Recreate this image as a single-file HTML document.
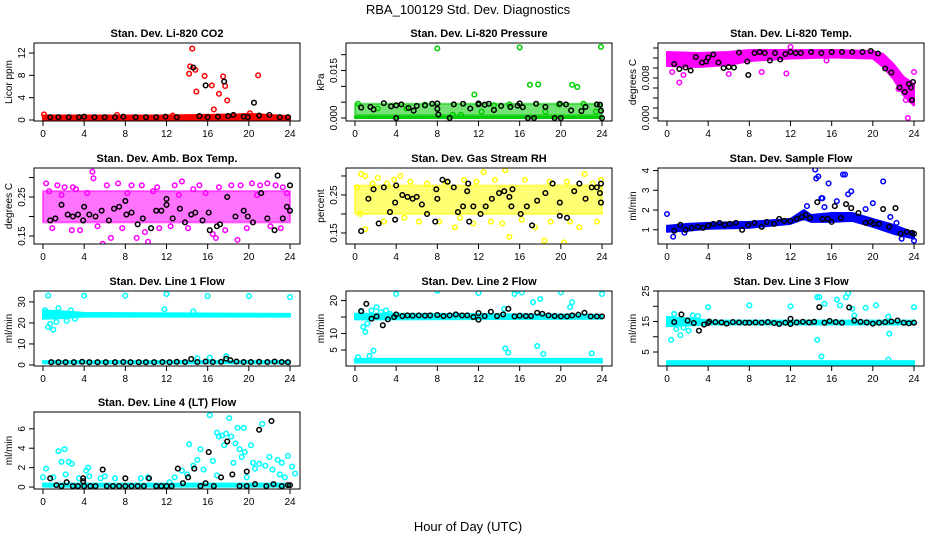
<!DOCTYPE html>
<html><head><meta charset="utf-8"><style>
body{margin:0;background:#fff}
svg{display:block;font-family:"Liberation Sans",Arial,sans-serif}
</style></head><body>
<svg id="chart" width="936" height="540" viewBox="0 0 936 540" xmlns="http://www.w3.org/2000/svg">
<text x="468" y="14" font-size="13" text-anchor="middle">RBA_100129  Std. Dev. Diagnostics</text>
<text x="468" y="531" font-size="13" text-anchor="middle">Hour of Day (UTC)</text>
</svg>
<script>
// ---------- data ----------
const xTicks = [0,4,8,12,16,20,24];

const co2Band = [[0,0,0.8],[12,0,0.8],[19,0,1.0],[20,0,1.1],[24,0,0.7]];
const co2Pts = [[0.1,1.0],[14.5,12.8],[14.3,9.6],[14.2,8.3],[14.8,9.0],[14.9,5.1],[15.7,7.9],[16.4,6.2],[16.6,1.9],[17.1,4.7],[17.5,7.8],[17.7,6.1],[17.9,3.5],[20.1,1.2],[20.9,8.0],[7.2,0.9],[12.6,0.8]];
const co2Black = [[14.6,9.4],[15.8,6.2],[17.6,6.9],[20.5,3.1],[0.7,0.5],[1.5,0.5],[2.5,0.5],[3.5,0.5],[4,0.6],[5,0.5],[6,0.5],[7,0.5],[7.8,0.6],[9,0.5],[10,0.5],[11,0.5],[11.9,0.6],[13,0.5],[15.2,0.7],[16,0.5],[17,0.6],[18,0.7],[18.5,0.9],[19.5,0.6],[19.9,0.5],[21,0.8],[22,0.9],[23,0.5],[23.8,0.5]];

const presBand = [[0,0,0.0005],[24,0,0.0005]];
const presCloud = [[0,0.0009,0.0045],[24,0.0009,0.0045]];
const presPts = [[8,0.022],[16,0.0223],[23.9,0.0225],[17,0.0105],[17.8,0.0106],[21.1,0.0105],[21.6,0.0098],[11.6,0.0074],[0.3,0.0045],[2.2,0.003],[5,0.003],[6.8,0.0042],[9.5,0.001],[10.3,0.001],[12.3,0.002],[13.5,0.004],[15,0.0043],[18.5,0.002],[19.8,0.0042],[22.2,0.0045],[23.4,0.002]];
const presBlack = [[0.6,0.0033],[1.5,0.0035],[1.8,0.0027],[2.8,0.0047],[3.5,0.0037],[4,0.004],[4,0],[4.5,0.0043],[5.2,0.0032],[5.7,0.0023],[6,0.0038],[6.8,0.004],[7.5,0.0045],[8,0.0046],[8,0.0029],[8.1,0.0011],[9.2,0],[9.6,0.0043],[10.5,0.0045],[11.2,0.003],[12,0.0046],[12,0.0043],[12.6,0.0042],[13,0.0045],[13.5,0.0025],[14.2,0.0038],[15.1,0.0035],[15.8,0.0039],[16,0.0046],[16.3,0.0034],[16.8,0],[17.4,0],[17.6,0.0045],[18.5,0.0035],[19.4,0],[20,0],[19.9,0.0045],[20.5,0.0043],[21,0.0024],[22,0.0022],[22.4,0.0035],[23.5,0.0043],[23.8,0.0042],[23.9,0.0023],[24,0]];

const tempBand = [[0,0.0104,0.0132],[3,0.0102,0.0130],[6,0.0106,0.0132],[8,0.0114,0.0136],[12,0.0119,0.0136],[16,0.0121,0.0136],[20,0.0119,0.0134],[21,0.0102,0.0128],[22,0.0078,0.0108],[23,0.0045,0.0082],[24,0.0025,0.0068]];
const tempPts = [[23.4,0],[23.2,0.0036],[22.5,0.0058],[1.2,0.0071],[0.5,0.0092],[11.6,0.0089],[9.2,0.0092],[6,0.0088],[15.5,0.0115],[24,0.0092],[1.6,0.0086],[12,0.0142],[23.6,0.0036]];
const tempBlack = [[0.7,0.0108],[1.2,0.0098],[1.8,0.0101],[2.3,0.0095],[2.8,0.0122],[3.4,0.0111],[3.8,0.0113],[4,0.0121],[4.5,0.0127],[5,0.0111],[5.5,0.0100],[6,0.0102],[6.5,0.0101],[7,0.0131],[7.8,0.0113],[7.9,0.0086],[8.5,0.0130],[9,0.0132],[9.5,0.0130],[10,0.0115],[10.5,0.0130],[11,0.0117],[11.5,0.0128],[12,0.0132],[12.5,0.0130],[13,0.0130],[14,0.0132],[15,0.0130],[16,0.0132],[17,0.0132],[18,0.0132],[19,0.0132],[19.8,0.0134],[20.5,0.0129],[21.2,0.0099],[21.8,0.0091],[22.6,0.0061],[23.1,0.0052],[23.5,0.0068],[23.7,0.0061],[23.8,0.0036],[23.9,0.0072]];

const ambBand = [[0,0.185,0.265],[24,0.185,0.265]];
const ambPts = [[4.8,0.315],[4.9,0.298],[0.3,0.285],[13.5,0.29],[2.9,0.275],[5.8,0.13],[6.6,0.145],[9.1,0.145],[16.8,0.145],[18.9,0.14],[10.2,0.135],[11.3,0.17],[2.8,0.165],[0.9,0.17],[3.6,0.165],[9.9,0.16],[16.5,0.155],[1.4,0.28],[2.1,0.275],[3.2,0.27],[6.2,0.28],[7.3,0.285],[8.6,0.28],[9.6,0.28],[11.1,0.275],[12.8,0.28],[14.6,0.27],[15.2,0.28],[17.1,0.275],[18.3,0.28],[19.2,0.28],[20.3,0.285],[21.1,0.28],[21.8,0.285],[22.6,0.28],[23.3,0.275],[0.6,0.265],[5.3,0.175],[7.7,0.17],[12.4,0.175],[14.1,0.17],[17.7,0.165],[19.8,0.17],[22.1,0.175],[23.1,0.17],[1.8,0.255],[4.3,0.26],[8.2,0.26],[10.7,0.265],[13.2,0.255],[15.8,0.26],[20.8,0.255],[23.7,0.26]];
const ambBlack = [[0.7,0.19],[1.2,0.195],[1.8,0.23],[2.4,0.205],[2.9,0.2],[3.4,0.205],[3.9,0.19],[4,0.225],[4.5,0.205],[5.1,0.2],[5.7,0.215],[6.4,0.19],[6.9,0.22],[7.4,0.225],[8,0.24],[8.1,0.205],[8.6,0.21],[9.2,0.18],[9.7,0.195],[10.5,0.17],[11,0.215],[11.5,0.215],[12,0.245],[12,0.23],[12.6,0.195],[13.3,0.22],[13.8,0.185],[14.4,0.205],[14.8,0.21],[15.5,0.19],[16.1,0.21],[16.2,0.165],[16.9,0.175],[17.2,0.18],[17.9,0.25],[18.7,0.2],[19.5,0.215],[19.9,0.2],[20.4,0.185],[21.2,0.26],[21.8,0.195],[22.5,0.165],[22.8,0.305],[23.3,0.195],[23.7,0.225],[24,0.28],[24,0.215]];

const rhBand = [[0,0.2,0.275],[24,0.2,0.275]];
const rhPts = [[0.6,0.305],[1,0.3],[2.2,0.295],[3.8,0.29],[4.4,0.3],[12.5,0.31],[14.6,0.315],[22.3,0.305],[15,0.14],[18.4,0.13],[20.3,0.125],[1,0.16],[9.7,0.165],[17.5,0.165],[21.8,0.165],[0.2,0.27],[1.7,0.28],[3.1,0.28],[5.4,0.285],[7,0.28],[8.8,0.285],[10.6,0.29],[11.8,0.285],[13.6,0.29],[16.5,0.29],[18.9,0.285],[20.6,0.285],[23.1,0.28],[23.9,0.29],[0.5,0.2],[2.8,0.18],[4.8,0.19],[6.2,0.18],[8.2,0.18],[10.2,0.19],[11.5,0.175],[13.2,0.18],[14.3,0.175],[16.2,0.185],[19,0.18],[20.9,0.18],[23.5,0.18]];
const rhBlack = [[0.6,0.155],[1.3,0.24],[1.8,0.265],[2.3,0.175],[2.8,0.27],[3.4,0.205],[3.9,0.23],[4,0.275],[3.9,0.185],[4.6,0.25],[5.1,0.245],[5.6,0.24],[6,0.245],[6.5,0.225],[7,0.2],[7.8,0.18],[7.9,0.265],[8,0.24],[8.5,0.29],[9,0.285],[9.6,0.27],[10,0.205],[10.5,0.22],[11,0.28],[10.9,0.26],[11.1,0.18],[11.5,0.22],[12.2,0.2],[12.7,0.22],[13.3,0.24],[14,0.255],[14.5,0.26],[15,0.245],[15.2,0.22],[15.3,0.265],[16.1,0.2],[16.7,0.22],[17.2,0.17],[17.7,0.235],[18.5,0.255],[19.2,0.28],[19.9,0.23],[19.9,0.195],[20.6,0.19],[21.3,0.26],[21.8,0.28],[22.4,0.24],[23,0.27],[23.5,0.27],[23.9,0.28],[23.8,0.255],[23.9,0.23]];

const flowBand = [[0,0.9,1.2],[2,0.95,1.3],[4,1.05,1.35],[8,1.1,1.4],[12,1.3,1.55],[13.3,1.55,2.0],[14,1.4,1.75],[16,1.4,1.85],[18,1.45,1.85],[20,1.15,1.55],[22,0.8,1.25],[24,0.55,0.85]];
const flowPts = [[0,1.8],[0.6,0.65],[1.7,0.85],[14.4,4.05],[14.5,3.6],[14.7,3.7],[15,2.6],[15.1,2.6],[15.3,2.15],[15.7,3.35],[16.5,2.45],[17.1,3.8],[17.3,3.8],[17.6,2.8],[17.9,2.95],[19.3,2.05],[20,2.35],[21,3.45],[21.7,1.65],[22.3,1.35],[22.8,0.55],[24,0.45],[13.6,2.2]];
const flowBlack = [[0.7,0.95],[1.3,1.25],[1.8,1.0],[2.4,1.1],[3,1.15],[3.5,1.1],[4,1.2],[4.5,1.3],[5.1,1.35],[5.6,1.25],[6.1,1.3],[6.7,1.35],[7.3,1.0],[7.9,1.25],[8.5,1.35],[9.2,1.15],[9.7,1.4],[10.4,1.3],[10.9,1.55],[11.4,1.45],[12,1.45],[12.6,1.55],[13.1,1.65],[13.5,1.75],[13.9,1.6],[14.6,2.4],[15.1,1.55],[15.6,1.55],[16,1.4],[16.3,2.2],[16.9,1.6],[17.4,2.3],[17.9,2.1],[18.6,1.85],[19.3,1.35],[19.8,1.4],[20.1,1.3],[20.6,1.3],[21,2.05],[21.6,1.15],[22.2,2.1],[22.7,0.8],[23.3,0.9],[23.8,0.85],[24,0.8]];

const l1Band = [[0,22,26],[2,22.3,25.5],[4,23,24.8],[24,23,24.3]];
const l1Band2 = [[0,0.8,1.8],[24,0.8,1.8]];
const l1Pts = [[0.5,33],[4,33],[8,33],[12,33.8],[16,32.8],[20,32.8],[24,32.3],[0.5,18],[1,16.8],[0.7,19.5],[1.3,20.5],[1.5,27],[2.3,21],[2.7,26],[3.1,22],[0.2,26],[1.1,24.5],[15,3.2],[16.2,3.5],[17.8,4.2],[11.8,26.5],[14.6,25.5]];
const l1Black = [[0.8,1.3],[1.5,1.3],[2.2,1.3],[3,1.3],[3.8,1.5],[4.5,1.3],[5.3,1.3],[6.1,1.3],[7,1.3],[7.8,1.4],[8.5,1.3],[9.3,1.3],[10,1.3],[10.8,1.3],[11.6,1.4],[12.3,1.3],[13,1.5],[13.8,1.4],[14.4,2.8],[15,1.4],[15.8,1.6],[16.5,1.4],[17.3,1.5],[17.8,3.0],[18.2,2.3],[18.8,1.6],[19.5,1.4],[20.2,1.4],[21,1.5],[21.8,1.4],[22.5,1.6],[23.2,1.4],[23.8,1.3]];

const l2Band = [[0,14.3,16],[3,14.3,16],[24,14.5,15.7]];
const l2Band2 = [[0,1.2,2.3],[24,1.2,2.3]];
const l2Pts = [[1,10.5],[0.8,12],[1.2,13],[0.6,16.5],[1.6,17],[2.1,18],[2.5,16.5],[3,17],[3.4,16],[1.8,4.8],[1.4,3.2],[0.3,2.8],[4,22],[8,23],[12,22.3],[15.5,22],[15.8,23],[16.2,22.5],[17.3,19.5],[18,20.5],[20,22.5],[20.9,18],[21.1,19.5],[24,22],[14.6,5.5],[14.9,4.2],[17.7,6.2],[18.3,3.8],[23,4.0],[14.5,17.5]];
const l2Black = [[0.6,16.8],[1.1,19],[1.6,14.5],[2.1,15.2],[2.7,12.5],[3.2,14.3],[3.8,15],[4,15.8],[4.6,15.3],[5.1,15.5],[5.6,15.4],[6.2,15.5],[6.8,15.4],[7.3,15.5],[8,15.6],[8.6,15.3],[9.2,15.5],[9.8,15.8],[10.4,15.5],[10.9,15.5],[11.5,15],[12,16.2],[12,14.2],[12.6,15.3],[13.2,16.6],[13.8,15.3],[14.4,15.8],[14.9,17.5],[15.5,15.2],[16,15.4],[16.6,15.3],[17.1,15.3],[17.7,16.3],[18.2,16],[18.8,15.5],[19.4,15.3],[20,15.2],[20.6,15.2],[21.1,15.5],[21.7,15.7],[22.3,16.3],[22.9,15.2],[23.5,15.2],[24,15.2]];

const l3Band = [[0,13.5,16.5],[3,13.8,15.8],[4,14,15.3],[24,14,15.3]];
const l3Band2 = [[0,0.8,2],[24,0.8,2]];
const l3Pts = [[0.4,9],[1.3,10.5],[0.9,12.5],[1.6,13],[2.1,12],[2.5,17],[0.7,17.5],[3,16.8],[4,19.7],[8,20.3],[12,20],[14.6,23],[14.8,23],[15.3,20.8],[14.6,9],[16.5,22.2],[16.8,20.3],[17.4,23],[17.6,24.3],[18,19.2],[18.2,17],[19.3,19.5],[20.3,20.3],[21.5,16.6],[21.6,11],[24,19.7],[15,3.5],[21.5,2.5]];
const l3Black = [[0.7,14.8],[1.4,17.3],[2,15.3],[2.6,14.5],[3.1,12],[3.6,14],[4,14.5],[4.1,15],[4.7,14.8],[5.3,14.7],[5.8,14.3],[6.4,14.8],[7,14.7],[7.6,14.6],[8,14.6],[8.6,14.7],[9.2,14.6],[9.8,14.8],[10.4,14.5],[10.9,14.2],[11.5,14.6],[12,15.9],[12,14.2],[12.6,14.7],[13.2,14.9],[13.8,14.7],[14.3,14.9],[14.8,19.7],[15.3,14.6],[15.8,15.2],[16.4,14.8],[17,14.6],[17.7,19.6],[18.2,15.3],[18.8,14.9],[19.4,14.7],[20,14.3],[20.6,14.6],[21.2,14.8],[21.8,15],[22.4,15.3],[23,14.6],[23.5,14.4],[24,14.6]];

const l4Band = [[0,0.05,0.35],[24,0.05,0.35]];
const l4Pts = [[0.3,1.9],[1.5,3.7],[2.1,3.9],[1.8,2.6],[2.5,2.6],[2.8,2.4],[0,1],[1,1],[2.2,1.3],[3.5,0.9],[4.2,1.7],[4.4,2],[4.5,1.1],[5.6,0.9],[6,1.1],[7,0.9],[9.5,0.9],[10.2,1],[12.3,0.5],[12.8,1],[13.5,1.7],[14.2,4.4],[14.6,2.2],[15,2.8],[15.3,3.9],[15.6,1.8],[16.2,7.4],[16.5,2.7],[16.9,5.6],[17.1,5.2],[17.4,5.3],[17.6,4.3],[17.8,5.5],[18.1,7.1],[18.3,5.2],[18.5,2.5],[18.7,4.5],[18.9,6.1],[19.1,3.9],[19.3,3.1],[19.5,6.1],[19.6,3.6],[20.2,4.3],[20.4,2.5],[20.6,1.9],[21,2.4],[21.3,6.5],[21.6,2.2],[22,3.1],[22.3,1.8],[22.8,2.8],[23.2,2.5],[23.5,1],[23.8,3.2],[24.2,2.1],[24.5,1.4],[14,1.3],[16.9,1.2],[19.8,1],[23,1.3]];
const l4Black = [[0.7,0.9],[1.3,0.2],[1.8,0.1],[2.3,0.5],[2.9,0.1],[3.4,0.1],[3.9,0.9],[3.9,0.6],[4,0.1],[4.6,0.1],[5.1,0.1],[5.8,1.8],[6.2,0.1],[6.8,0.1],[7.4,0.1],[8,0.9],[8,0.1],[8.6,0.1],[9.2,0.1],[9.8,0.1],[10.3,0.9],[11,0.1],[11.5,0.1],[12,0.1],[12.5,0.1],[13.1,1.9],[13.6,0.4],[14.1,1],[14.7,1.9],[15.3,0.1],[15.8,0.4],[16.1,3.6],[16.6,0.1],[17.3,1],[17.9,4.7],[18.4,1.3],[19.1,0.1],[19.8,1.6],[19.8,0.1],[20.6,0.3],[21,5.9],[21.7,0.1],[22.2,6.8],[22.4,0.3],[23.2,0.1],[23.8,0.2],[24,0.2]];

// ---------- layout ----------
const cols=[[34,300],[346,612],[658,924]];
const rows=[[43,121],[168,244],[291,366],[412,489]];
const panels=[
 {id:'co2',title:'Stan. Dev. Li-820 CO2',yl:'Licor ppm',c:0,r:0,ylim:[-0.18,13.8],ticks:[0,4,8,12],labels:[[0,'0'],[4,'4'],[8,'8'],[12,'12']],col:'#ff0000',bands:[co2Band],pts:co2Pts,black:co2Black},
 {id:'pressure',title:'Stan. Dev. Li-820 Pressure',yl:'kPa',c:1,r:0,ylim:[-0.00095,0.0237],ticks:[0,0.005,0.01,0.015,0.02],labels:[[0,'0.000'],[0.015,'0.015']],col:'#00cc00',bands:[presBand],clouds:[presCloud],pts:presPts,black:presBlack},
 {id:'temp',title:'Stan. Dev. Li-820 Temp.',yl:'degrees C',c:2,r:0,ylim:[-0.0006,0.015],ticks:[0,0.002,0.004,0.006,0.008,0.010,0.012,0.014],labels:[[0,'0.000'],[0.008,'0.008']],col:'#ff00ff',bands:[tempBand],pts:tempPts,black:tempBlack},
 {id:'ambbox',title:'Stan. Dev. Amb. Box Temp.',yl:'degrees C',c:0,r:1,ylim:[0.1295,0.3244],ticks:[0.15,0.2,0.25,0.3],labels:[[0.15,'0.15'],[0.25,'0.25']],col:'#ff00ff',clouds:[ambBand],pts:ambPts,black:ambBlack},
 {id:'rh',title:'Stan. Dev. Gas Stream RH',yl:'percent',c:1,r:1,ylim:[0.121,0.321],ticks:[0.15,0.2,0.25,0.3],labels:[[0.15,'0.15'],[0.25,'0.25']],col:'#ffff00',clouds:[rhBand],pts:rhPts,black:rhBlack},
 {id:'sampleflow',title:'Stan. Dev. Sample Flow',yl:'ml/min',c:2,r:1,ylim:[0.28,4.13],ticks:[1,2,3,4],labels:[[1,'1'],[2,'2'],[3,'3'],[4,'4']],col:'#0000ff',bands:[flowBand],pts:flowPts,black:flowBlack},
 {id:'line1',title:'Stan. Dev. Line 1 Flow',yl:'ml/min',c:0,r:2,ylim:[-0.5,35.2],ticks:[0,10,20,30],labels:[[0,'0'],[10,'10'],[20,'20'],[30,'30']],col:'#00ffff',bands:[l1Band,l1Band2],pts:l1Pts,black:l1Black},
 {id:'line2',title:'Stan. Dev. Line 2 Flow',yl:'ml/min',c:1,r:2,ylim:[0.15,22.9],ticks:[5,10,15,20],labels:[[5,'5'],[10,'10'],[20,'20']],col:'#00ffff',bands:[l2Band,l2Band2],pts:l2Pts,black:l2Black},
 {id:'line3',title:'Stan. Dev. Line 3 Flow',yl:'ml/min',c:2,r:2,ylim:[0.41,25],ticks:[5,10,15,20,25],labels:[[5,'5'],[15,'15'],[25,'25']],col:'#00ffff',bands:[l3Band,l3Band2],pts:l3Pts,black:l3Black},
 {id:'line4',title:'Stan. Dev. Line 4 (LT) Flow',yl:'ml/min',c:0,r:3,ylim:[-0.2,7.73],ticks:[0,2,4,6],labels:[[0,'0'],[2,'2'],[4,'4'],[6,'6']],col:'#00ffff',bands:[l4Band],pts:l4Pts,black:l4Black}
];

const NS='http://www.w3.org/2000/svg';
const svg=document.getElementById('chart');
function mk(tag,attrs,parent){const e=document.createElementNS(NS,tag);for(const k in attrs)e.setAttribute(k,attrs[k]);parent.appendChild(e);return e;}

panels.forEach(p=>{
  const [x0,x1]=cols[p.c],[y0,y1]=rows[p.r];
  const xs=h=>x0+9+h/24*(x1-x0-19);
  const ys=v=>y1-(v-p.ylim[0])/(p.ylim[1]-p.ylim[0])*(y1-y0);
  const g=mk('g',{},svg);
  
  
  const t=mk('text',{x:(x0+x1)/2,y:y0-6,'font-size':11,'font-weight':'bold','text-anchor':'middle'},g);
  t.textContent=p.title;
  
  
  const clipId='clip-'+p.id;
  const cp=mk('clipPath',{id:clipId},g);mk('rect',{x:x0,y:y0,width:x1-x0,height:y1-y0},cp);
  const pg=mk('g',{'clip-path':'url(#'+clipId+')'},g);
  const drawBand=(b,op,name)=>{
    const up=b.map(d=>xs(d[0])+','+ys(d[2]));
    const dn=b.slice().reverse().map(d=>xs(d[0])+','+ys(d[1]));
    const poly=mk('polygon',{points:up.concat(dn).join(' '),fill:p.col,'fill-opacity':op,stroke:p.col,'stroke-width':2,'stroke-opacity':op,'stroke-linejoin':'round'},pg);
    
    
  };
  (p.bands||[]).forEach(b=>drawBand(b,1,'dense-band'));
  (p.clouds||[]).forEach(b=>drawBand(b,0.55,'point-cloud'));
  p.pts.forEach(d=>{
    const c=mk('circle',{cx:xs(d[0]),cy:ys(d[1]),r:2.3,fill:'none',stroke:p.col,'stroke-width':1.5},pg);
    
    
  });
  p.black.forEach(d=>{
    const c=mk('circle',{cx:xs(d[0]),cy:ys(d[1]),r:2.3,fill:'none',stroke:'#000','stroke-width':1.5},pg);
    
    
  });
  const box=mk('rect',{x:x0,y:y0,width:x1-x0,height:y1-y0,fill:'none',stroke:'#000','stroke-width':1},g);
  
  
  mk('line',{x1:xs(0),x2:xs(24),y1:y1,y2:y1,stroke:'#000'},g);
  xTicks.forEach(h=>{
    mk('line',{x1:xs(h),x2:xs(h),y1:y1,y2:y1+5,stroke:'#000'},g);
    const lt=mk('text',{x:xs(h),y:y1+16,'font-size':10,'text-anchor':'middle'},g);
    lt.textContent=h;
    
    
  });
  mk('line',{x1:x0,x2:x0,y1:ys(p.ticks[0]),y2:ys(p.ticks[p.ticks.length-1]),stroke:'#000'},g);
  p.ticks.forEach(v=>mk('line',{x1:x0-5,x2:x0,y1:ys(v),y2:ys(v),stroke:'#000'},g));
  p.labels.forEach(l=>{
    const yy=ys(l[0]);
    const lt=mk('text',{x:x0-9,y:yy,'font-size':10,'text-anchor':'middle',transform:'rotate(-90 '+(x0-9)+' '+yy+')'},g);
    lt.textContent=l[1];
    
    
  });
  const ym=(y0+y1)/2;
  const yl=mk('text',{x:x0-22,y:ym,'font-size':10,'text-anchor':'middle',transform:'rotate(-90 '+(x0-22)+' '+ym+')'},g);
  yl.textContent=p.yl;
  
  
});
</script>
</body></html>
